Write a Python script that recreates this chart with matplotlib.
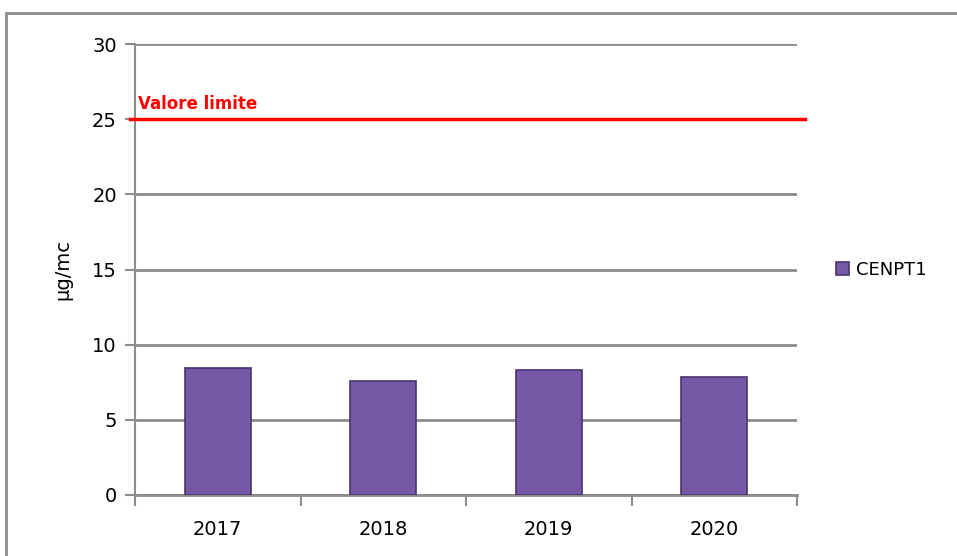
import matplotlib.pyplot as plt
from matplotlib.patches import Rectangle

anni = ['2017', '2018', '2019', '2020']
valori = [8.45, 7.6, 8.3, 7.85]
limite = 25
serie = 'CENPT1'

plt.rcParams['font.family'] = ['DejaVu Sans']

fig = plt.figure(figsize=(9.57, 5.56), dpi=100)
# cornice esterna
fig.patches.append(Rectangle((6 / 957, -0.05), 1.1, 1 - 13 / 556 + 0.05,
                             transform=fig.transFigure, fill=False,
                             edgecolor='#8c8c8c', lw=2))

ax = fig.add_axes([135 / 957, 1 - 495 / 556, 662 / 957, 451 / 556])
x = range(len(anni))
ax.bar(x, valori, width=0.4, color='#7659a6', edgecolor='#4a3470',
       linewidth=1.2, zorder=3, label=serie)
ax.axhline(limite, xmin=-0.008, xmax=1.012, color='#ff0000', lw=2.5,
           zorder=4, clip_on=False)
ax.text(-0.48, limite + 0.4, 'Valore limite', color='#ff0000',
        fontweight='bold', fontsize=12, va='bottom', ha='left')

ax.set_xlim(-0.5, len(anni) - 0.5)
ax.set_ylim(0, 30)
ax.set_yticks(range(0, 31, 5))
ax.yaxis.grid(True, color='#8c8c8c', lw=2, zorder=0)
ax.set_xticks(x)
ax.set_xticklabels(anni, fontsize=14)
ax.tick_params(axis='x', length=0, pad=18)
ax.set_xticks([i - 0.5 for i in range(len(anni) + 1)], minor=True)
ax.tick_params(axis='x', which='minor', length=8, width=1.5, color='#8c8c8c')
ax.tick_params(axis='y', length=7, width=1.5, color='#8c8c8c',
               labelsize=14, pad=6)
for s in ['top', 'right']:
    ax.spines[s].set_visible(False)
ax.spines['left'].set_color('#8c8c8c')
ax.spines['left'].set_linewidth(1.5)
ax.spines['bottom'].set_color('#8c8c8c')
ax.spines['bottom'].set_linewidth(2)
ax.set_ylabel('µg/mc', fontsize=14, labelpad=14)

ax.legend(loc='center left', bbox_to_anchor=(1.035, 0.5), frameon=False,
          fontsize=13, handlelength=0.7, handleheight=0.7, handletextpad=0.4)

fig.savefig('out.png', dpi=100)
